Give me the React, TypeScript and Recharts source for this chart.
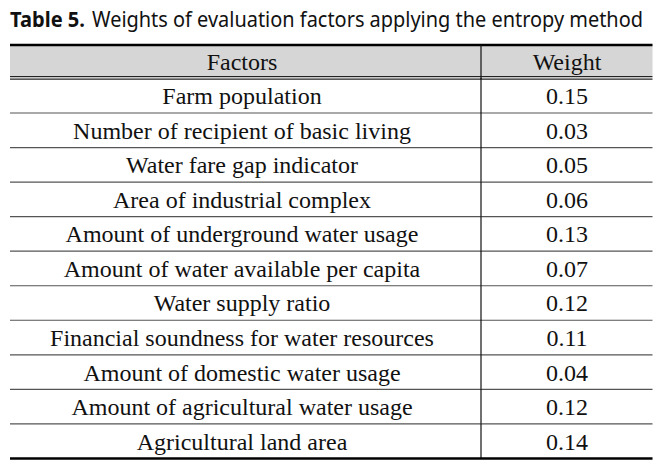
import { ComposedChart, Bar, XAxis, YAxis, Customized } from "recharts";

const factors: string[] = [
  "Farm population",
  "Number of recipient of basic living",
  "Water fare gap indicator",
  "Area of industrial complex",
  "Amount of underground water usage",
  "Amount of water available per capita",
  "Water supply ratio",
  "Financial soundness for water resources",
  "Amount of domestic water usage",
  "Amount of agricultural water usage",
  "Agricultural land area",
];

const weights: number[] = [0.15, 0.03, 0.05, 0.06, 0.13, 0.07, 0.12, 0.11, 0.04, 0.12, 0.14];

const headers: string[] = ["Factors", "Weight"];
const titleLabel = "Table 5.";
const titleText = "Weights of evaluation factors applying the entropy method";

const rows = factors.map((factor, i) => ({ factor, weight: weights[i] }));

const W = 672;
const H = 460;
const LEFT = 10;
const RIGHT = 652.5;
const DIVIDER = 481;
const HEADER_TOP = 45;
const HEADER_BOTTOM = 78;
const FACTOR_CX = 242;
const WEIGHT_CX = 567;
const SERIF = "'Liberation Serif', 'Times New Roman', serif";
const SANS = "'Noto Sans', 'Open Sans', sans-serif";
const CELL_FONT = 24;

function RowShape(props: any) {
  const { y, height, index, payload } = props;
  const top = y;
  const bottom = y + height;
  const mid = y + height / 2;
  const last = index === rows.length - 1;
  const factor = payload?.factor ?? factors[index];
  const weight = payload?.weight ?? weights[index];
  return (
    <g>
      <line x1={DIVIDER} x2={DIVIDER} y1={top} y2={bottom} stroke="#111" strokeWidth={1.2} />
      <text
        x={FACTOR_CX}
        y={mid}
        dy="0.36em"
        textAnchor="middle"
        fontFamily={SERIF}
        fontSize={CELL_FONT}
        fill="#111"
      >
        {factor}
      </text>
      <text
        x={WEIGHT_CX}
        y={mid}
        dy="0.36em"
        textAnchor="middle"
        fontFamily={SERIF}
        fontSize={CELL_FONT}
        fill="#111"
      >
        {Number(weight).toFixed(2)}
      </text>
      {last ? (
        <line x1={LEFT} x2={RIGHT} y1={bottom} y2={bottom} stroke="#000" strokeWidth={2.4} />
      ) : (
        <line x1={LEFT} x2={RIGHT} y1={bottom} y2={bottom} stroke="#555" strokeWidth={1.2} />
      )}
    </g>
  );
}

function Header() {
  const mid = (HEADER_TOP + HEADER_BOTTOM) / 2;
  return (
    <g>
      <text x={LEFT} y={27} fontFamily={SANS} fontSize={22} fontWeight={700} fill="#111" textLength={75} lengthAdjust="spacingAndGlyphs">
        {titleLabel}
      </text>
      <text x={92} y={27} fontFamily={SANS} fontSize={22} fill="#111" textLength={551} lengthAdjust="spacingAndGlyphs">
        {titleText}
      </text>
      <rect x={LEFT} y={HEADER_TOP} width={RIGHT - LEFT} height={HEADER_BOTTOM - HEADER_TOP - 2} fill="#d6d6d6" />
      <line x1={LEFT} x2={RIGHT} y1={HEADER_TOP} y2={HEADER_TOP} stroke="#000" strokeWidth={2.4} />
      <line x1={LEFT} x2={RIGHT} y1={HEADER_BOTTOM - 1.4} y2={HEADER_BOTTOM - 1.4} stroke="#222" strokeWidth={1.2} />
      <line x1={LEFT} x2={RIGHT} y1={HEADER_BOTTOM + 1.2} y2={HEADER_BOTTOM + 1.2} stroke="#222" strokeWidth={1.2} />
      <line x1={DIVIDER} x2={DIVIDER} y1={HEADER_TOP} y2={HEADER_BOTTOM + 1} stroke="#111" strokeWidth={1.2} />
      <text x={FACTOR_CX} y={mid} dy="0.36em" textAnchor="middle" fontFamily={SERIF} fontSize={CELL_FONT} fill="#111">
        {headers[0]}
      </text>
      <text x={WEIGHT_CX} y={mid} dy="0.36em" textAnchor="middle" fontFamily={SERIF} fontSize={CELL_FONT} fill="#111">
        {headers[1]}
      </text>
    </g>
  );
}

export default function App() {
  return (
    <div style={{ position: "absolute", left: 0, top: 0, width: W, height: H, background: "#fff" }}>
      <ComposedChart
        width={W}
        height={H}
        data={rows}
        layout="vertical"
        margin={{ top: 78, right: W - RIGHT, bottom: 2, left: LEFT }}
        barCategoryGap={0}
      >
        <XAxis type="number" domain={[0, 1]} hide />
        <YAxis type="category" dataKey="factor" hide />
        <Bar dataKey="weight" isAnimationActive={false} shape={<RowShape />} />
        <Customized component={<Header />} />
      </ComposedChart>
    </div>
  );
}
